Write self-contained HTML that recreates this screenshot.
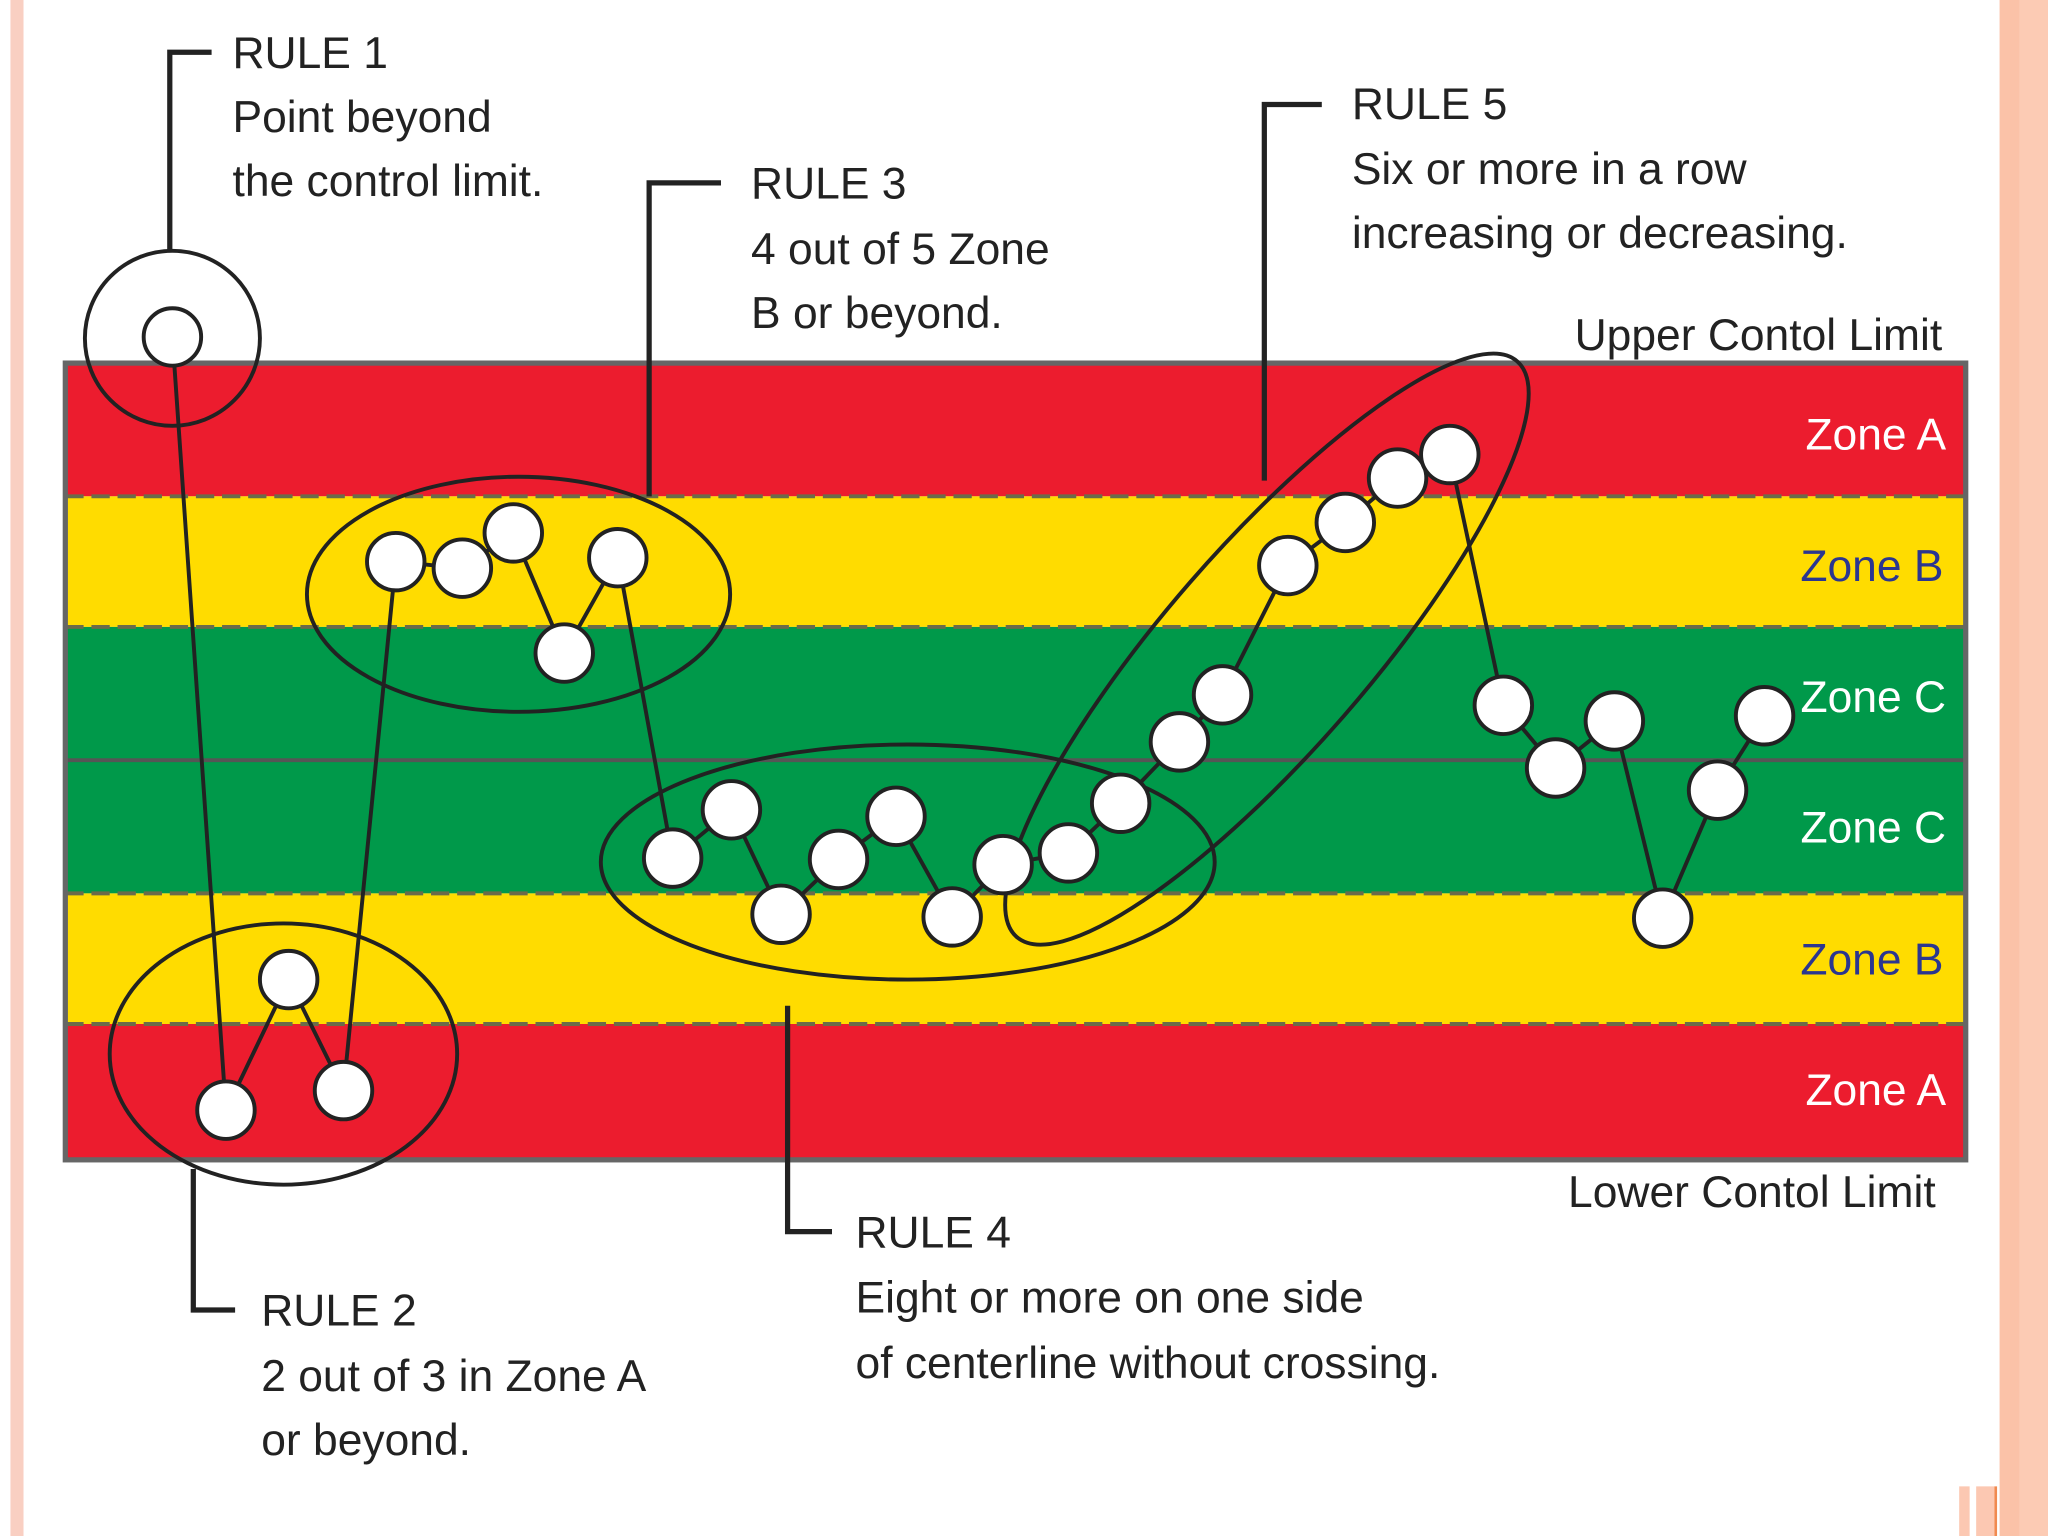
<!DOCTYPE html>
<html><head><meta charset="utf-8"><style>
html,body{margin:0;padding:0;background:#fff;}
svg{display:block;}
text{font-family:"Liberation Sans",sans-serif;font-size:34px;fill:#222;}
</style></head><body>
<svg width="2048" height="1536" viewBox="0 0 1568 1176" preserveAspectRatio="none" xmlns="http://www.w3.org/2000/svg">
<rect x="0" y="0" width="1568" height="1176" fill="#fff"/>
<rect x="8" y="0" width="10" height="1176" fill="#f9cfc2"/>
<rect x="1531" y="0" width="37" height="1176" fill="#fccbb4"/>
<rect x="1531" y="0" width="15" height="1176" fill="#fbc2a8"/>
<rect x="1500" y="1138" width="8" height="38" fill="#fcc8b2"/>
<rect x="1513" y="1138" width="14" height="38" fill="#fcc8b2"/>
<rect x="1527" y="1138" width="2" height="38" fill="#f08a50"/>

<!-- bands -->
<rect x="50" y="278" width="1455" height="102" fill="#ec1c2e"/>
<rect x="50" y="380" width="1455" height="100" fill="#ffdc00"/>
<rect x="50" y="480" width="1455" height="102" fill="#00994a"/>
<rect x="50" y="582" width="1455" height="102" fill="#00994a"/>
<rect x="50" y="684" width="1455" height="100" fill="#ffdc00"/>
<rect x="50" y="784" width="1455" height="104" fill="#ec1c2e"/>
<g stroke="#6b6b4a" stroke-width="3" stroke-dasharray="14 6" fill="none">
<line x1="50" y1="380" x2="1505" y2="380"/>
<line x1="50" y1="480" x2="1505" y2="480"/>
<line x1="50" y1="684" x2="1505" y2="684"/>
<line x1="50" y1="784" x2="1505" y2="784"/>
</g>
<line x1="50" y1="582" x2="1505" y2="582" stroke="#555" stroke-width="3"/>
<rect x="50" y="278" width="1455" height="610" fill="none" stroke="#666" stroke-width="4"/>

<!-- zone labels -->
<g text-anchor="end" font-size="34">
<text x="1490" y="344" style="fill:#fff">Zone A</text>
<text x="1488" y="445" style="fill:#2b3690">Zone B</text>
<text x="1490" y="545" style="fill:#fff">Zone C</text>
<text x="1490" y="645" style="fill:#fff">Zone C</text>
<text x="1488" y="746" style="fill:#2b3690">Zone B</text>
<text x="1490" y="846" style="fill:#fff">Zone A</text>
</g>

<!-- ellipses -->
<g fill="none" stroke="#222" stroke-width="3">
<circle cx="132" cy="259" r="67"/>
<ellipse cx="397" cy="455" rx="162" ry="90"/>
<ellipse cx="217" cy="807" rx="133" ry="100"/>
<ellipse cx="695" cy="660" rx="235" ry="90"/>
<ellipse cx="970" cy="497" rx="292" ry="78" transform="rotate(-49 970 497)"/>
</g>

<!-- callout brackets -->
<g fill="none" stroke="#222" stroke-width="4">
<polyline points="130,192 130,40 162,40"/>
<polyline points="497,380 497,140 552,140"/>
<polyline points="968,368 968,80 1012,80"/>
<polyline points="148,895 148,1003 180,1003"/>
<polyline points="603,770 603,943 637,943"/>
</g>

<!-- data line -->
<polyline fill="none" stroke="#222" stroke-width="3" points="132,258 173,850 221,750 263,835 303,430 354,435 393,408 432,500 473,427 515,657 560,620 598,700 642,658 686,625 729,702 768,662 818,653 858,615 903,568 936,532 986,433 1030,400 1070,366 1110,348 1151,540 1191,588 1236,552 1273,703 1315,605 1351,548"/>
<g fill="#fff" stroke="#222" stroke-width="3">
<circle cx="132" cy="258" r="22"/>
<circle cx="173" cy="850" r="22"/><circle cx="221" cy="750" r="22"/><circle cx="263" cy="835" r="22"/>
<circle cx="303" cy="430" r="22"/><circle cx="354" cy="435" r="22"/><circle cx="393" cy="408" r="22"/><circle cx="432" cy="500" r="22"/><circle cx="473" cy="427" r="22"/>
<circle cx="515" cy="657" r="22"/><circle cx="560" cy="620" r="22"/><circle cx="598" cy="700" r="22"/><circle cx="642" cy="658" r="22"/><circle cx="686" cy="625" r="22"/><circle cx="729" cy="702" r="22"/><circle cx="768" cy="662" r="22"/><circle cx="818" cy="653" r="22"/><circle cx="858" cy="615" r="22"/>
<circle cx="903" cy="568" r="22"/><circle cx="936" cy="532" r="22"/><circle cx="986" cy="433" r="22"/><circle cx="1030" cy="400" r="22"/><circle cx="1070" cy="366" r="22"/><circle cx="1110" cy="348" r="22"/>
<circle cx="1151" cy="540" r="22"/><circle cx="1191" cy="588" r="22"/><circle cx="1236" cy="552" r="22"/><circle cx="1273" cy="703" r="22"/><circle cx="1315" cy="605" r="22"/><circle cx="1351" cy="548" r="22"/>
</g>

<!-- texts -->
<text x="178" y="52">RULE 1</text>
<text x="178" y="101">Point beyond</text>
<text x="178" y="150">the control limit.</text>
<text x="575" y="152">RULE 3</text>
<text x="575" y="202">4 out of 5 Zone</text>
<text x="575" y="251">B or beyond.</text>
<text x="1035" y="91">RULE 5</text>
<text x="1035" y="141">Six or more in a row</text>
<text x="1035" y="190">increasing or decreasing.</text>
<text x="1487" y="268" text-anchor="end">Upper Contol Limit</text>
<text x="1482" y="924" text-anchor="end">Lower Contol Limit</text>
<text x="200" y="1015">RULE 2</text>
<text x="200" y="1065">2 out of 3 in Zone A</text>
<text x="200" y="1114">or beyond.</text>
<text x="655" y="955">RULE 4</text>
<text x="655" y="1005">Eight or more on one side</text>
<text x="655" y="1055">of centerline without crossing.</text>
</svg>
</body></html>
